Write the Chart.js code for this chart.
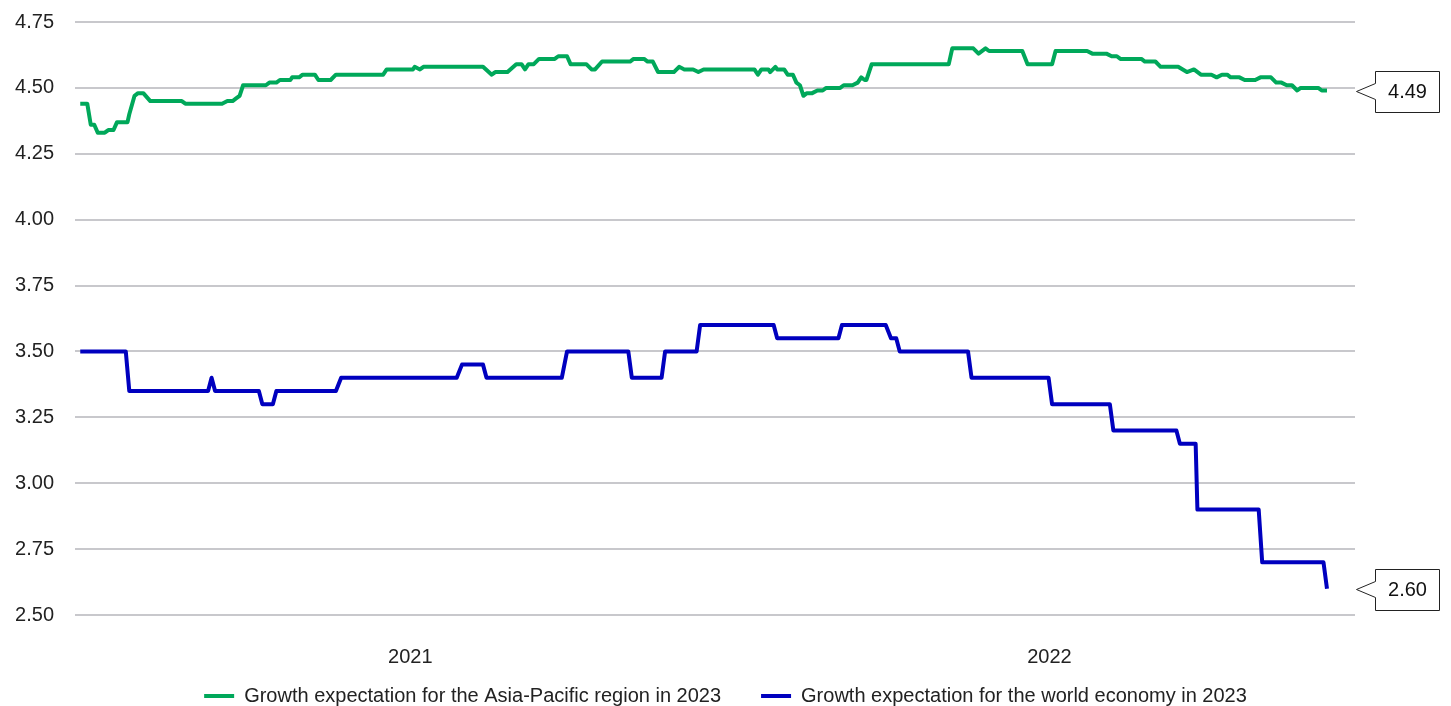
<!DOCTYPE html>
<html>
<head>
<meta charset="utf-8">
<script src="https://cdn.jsdelivr.net/npm/chart.js@4.4.1/dist/chart.umd.min.js"></script>
<style>
  html, body { margin: 0; padding: 0; background: #fff; overflow: hidden; }
  #wrap { width: 1451px; height: 706px; overflow: hidden; }
</style>
</head>
<body>
<div id="wrap"><canvas id="growthChart" width="1451" height="716"></canvas></div>
<script>
// Consensus growth forecasts for 2023
const asiaDates = [
  '2020-12-26', '2020-12-30', '2021-01-01', '2021-01-03', '2021-01-05', '2021-01-09', '2021-01-11', '2021-01-14',
  '2021-01-16', '2021-01-22', '2021-01-23', '2021-01-26', '2021-01-28', '2021-01-31', '2021-02-04', '2021-02-22',
  '2021-02-24', '2021-03-17', '2021-03-20', '2021-03-23', '2021-03-25', '2021-03-27', '2021-03-29', '2021-04-11',
  '2021-04-13', '2021-04-17', '2021-04-19', '2021-04-25', '2021-04-26', '2021-04-30', '2021-05-02', '2021-05-09',
  '2021-05-11', '2021-05-18', '2021-05-21', '2021-06-17', '2021-06-19', '2021-07-04', '2021-07-05', '2021-07-08',
  '2021-07-10', '2021-08-13', '2021-08-18', '2021-08-20', '2021-08-27', '2021-09-01', '2021-09-04', '2021-09-06',
  '2021-09-08', '2021-09-11', '2021-09-14', '2021-09-23', '2021-09-25', '2021-09-30', '2021-10-02', '2021-10-11',
  '2021-10-14', '2021-10-16', '2021-10-20', '2021-11-05', '2021-11-07', '2021-11-13', '2021-11-15', '2021-11-18',
  '2021-11-21', '2021-11-30', '2021-12-03', '2021-12-06', '2021-12-11', '2021-12-14', '2021-12-17', '2022-01-15',
  '2022-01-17', '2022-01-19', '2022-01-23', '2022-01-24', '2022-01-27', '2022-01-28', '2022-02-01', '2022-02-03',
  '2022-02-06', '2022-02-08', '2022-02-10', '2022-02-12', '2022-02-14', '2022-02-17', '2022-02-20', '2022-02-23',
  '2022-02-25', '2022-03-05', '2022-03-07', '2022-03-12', '2022-03-15', '2022-03-17', '2022-03-19', '2022-03-20',
  '2022-03-23', '2022-05-06', '2022-05-08', '2022-05-20', '2022-05-23', '2022-05-27', '2022-05-29', '2022-06-17',
  '2022-06-20', '2022-07-04', '2022-07-06', '2022-07-24', '2022-07-27', '2022-08-04', '2022-08-07', '2022-08-10',
  '2022-08-12', '2022-08-24', '2022-08-26', '2022-09-01', '2022-09-04', '2022-09-14', '2022-09-19', '2022-09-23',
  '2022-09-27', '2022-10-03', '2022-10-06', '2022-10-09', '2022-10-12', '2022-10-14', '2022-10-19', '2022-10-22',
  '2022-10-28', '2022-10-31', '2022-11-06', '2022-11-09', '2022-11-12', '2022-11-15', '2022-11-18', '2022-11-21',
  '2022-11-23', '2022-12-03', '2022-12-05', '2022-12-08'
];
const asiaValues = [
  4.44, 4.44, 4.36, 4.36, 4.33, 4.33, 4.34, 4.34,
  4.37, 4.37, 4.40, 4.47, 4.48, 4.48, 4.45, 4.45,
  4.44, 4.44, 4.45, 4.45, 4.46, 4.47, 4.51, 4.51,
  4.52, 4.52, 4.53, 4.53, 4.54, 4.54, 4.55, 4.55,
  4.53, 4.53, 4.55, 4.55, 4.57, 4.57, 4.58, 4.57,
  4.58, 4.58, 4.55, 4.56, 4.56, 4.59, 4.59, 4.57,
  4.59, 4.59, 4.61, 4.61, 4.62, 4.62, 4.59, 4.59,
  4.57, 4.57, 4.60, 4.60, 4.61, 4.61, 4.60, 4.60,
  4.56, 4.56, 4.58, 4.57, 4.57, 4.56, 4.57, 4.57,
  4.55, 4.57, 4.57, 4.56, 4.58, 4.57, 4.57, 4.55,
  4.55, 4.52, 4.51, 4.47, 4.48, 4.48, 4.49, 4.49,
  4.50, 4.50, 4.51, 4.51, 4.52, 4.54, 4.53, 4.53,
  4.59, 4.59, 4.65, 4.65, 4.63, 4.65, 4.64, 4.64,
  4.59, 4.59, 4.64, 4.64, 4.63, 4.63, 4.62, 4.62,
  4.61, 4.61, 4.60, 4.60, 4.58, 4.58, 4.56, 4.57,
  4.55, 4.55, 4.54, 4.55, 4.55, 4.54, 4.54, 4.53,
  4.53, 4.54, 4.54, 4.52, 4.52, 4.51, 4.51, 4.49,
  4.50, 4.50, 4.49, 4.49
];

const worldDates = [
  '2020-12-26', '2021-01-21', '2021-01-23', '2021-03-09', '2021-03-11', '2021-03-13', '2021-04-07', '2021-04-09',
  '2021-04-15', '2021-04-17', '2021-05-21', '2021-05-24', '2021-07-29', '2021-08-01', '2021-08-13', '2021-08-15',
  '2021-09-27', '2021-09-30', '2021-11-04', '2021-11-06', '2021-11-23', '2021-11-25', '2021-12-13', '2021-12-15',
  '2022-01-26', '2022-01-28', '2022-03-04', '2022-03-06', '2022-03-31', '2022-04-03', '2022-04-06', '2022-04-08',
  '2022-05-17', '2022-05-19', '2022-07-02', '2022-07-04', '2022-08-06', '2022-08-08', '2022-09-13', '2022-09-15',
  '2022-09-24', '2022-09-25', '2022-10-30', '2022-11-01', '2022-12-06', '2022-12-08'
];
const worldValues = [
  3.50, 3.50, 3.35, 3.35, 3.40, 3.35, 3.35, 3.30,
  3.30, 3.35, 3.35, 3.40, 3.40, 3.45, 3.45, 3.40,
  3.40, 3.50, 3.50, 3.40, 3.40, 3.50, 3.50, 3.60,
  3.60, 3.55, 3.55, 3.60, 3.60, 3.55, 3.55, 3.50,
  3.50, 3.40, 3.40, 3.30, 3.30, 3.20, 3.20, 3.15,
  3.15, 2.90, 2.90, 2.70, 2.70, 2.60
];

const seriesLabels = [
  'Growth expectation for the Asia-Pacific region in 2023',
  'Growth expectation for the world economy in 2023'
];
const seriesColors = ['#00a85a', '#0000bf'];
const yearLabels = ['2021', '2022'];
const axisStart = '2020-12-23';
const axisEnd = '2022-12-24';

// days since 1 Jan 2021
const dayOf = (s) => {
  const [y, m, d] = s.split('-').map(Number);
  return (Date.UTC(y, m - 1, d) - Date.UTC(2021, 0, 1)) / 86400000;
};
const toPoints = (dates, values) => dates.map((d, i) => ({ x: dayOf(d), y: values[i] }));
// each year label sits in the middle of its year
const yearMid = yearLabels.map((y) => (dayOf(y + '-01-01') + dayOf((+y + 1) + '-01-01')) / 2);

Chart.defaults.font.family = '"Liberation Sans", Arial, sans-serif';
Chart.defaults.font.size = 20;
Chart.defaults.color = '#222';

// Box with arrow showing the last value of each line, right of the plot
const lastValueCallout = {
  id: 'lastValueCallout',
  afterDatasetsDraw(chart) {
    const { ctx, chartArea } = chart;
    chart.data.datasets.forEach((ds, i) => {
      const meta = chart.getDatasetMeta(i);
      const pt = meta.data[meta.data.length - 1];
      const value = ds.data[ds.data.length - 1].y;
      const y = Math.round(pt.y) + 0.5;
      const tipX = Math.round(chartArea.right) + 1.5;
      const boxX = Math.round(chartArea.right) + 20.5;
      const w = 64, h = 41;
      const top = Math.round(y - h / 2) + 0.5;

      ctx.save();
      ctx.beginPath();
      ctx.moveTo(boxX, y - 8);
      ctx.lineTo(tipX, y);
      ctx.lineTo(boxX, y + 8);
      ctx.lineTo(boxX, top + h);
      ctx.lineTo(boxX + w, top + h);
      ctx.lineTo(boxX + w, top);
      ctx.lineTo(boxX, top);
      ctx.closePath();
      ctx.fillStyle = '#fff';
      ctx.fill();
      ctx.strokeStyle = '#222';
      ctx.lineWidth = 1;
      ctx.stroke();

      ctx.fillStyle = '#111';
      ctx.font = '20px "Liberation Sans", Arial, sans-serif';
      ctx.textAlign = 'center';
      ctx.textBaseline = 'middle';
      ctx.fillText(value.toFixed(2), boxX + w / 2, y + 1);
      ctx.restore();
    });
  }
};

// the year labels sit lower than the short x-axis box; let them run
// into the legend's top padding instead of being clipped
const yearLabelRoom = {
  id: 'yearLabelRoom',
  afterLayout(chart) {
    chart.scales.x.bottom = chart.height;
  }
};

const ctx = document.getElementById('growthChart').getContext('2d');

new Chart(ctx, {
  type: 'line',
  data: {
    datasets: [
      { label: seriesLabels[0], data: toPoints(asiaDates, asiaValues) },
      { label: seriesLabels[1], data: toPoints(worldDates, worldValues) }
    ].map((ds, i) => ({
      ...ds,
      borderColor: seriesColors[i],
      backgroundColor: seriesColors[i],
      borderWidth: 4,
      borderJoinStyle: 'round',
      pointRadius: 0,
      tension: 0,
      fill: false
    }))
  },
  options: {
    responsive: false,
    animation: false,
    devicePixelRatio: 1,
    layout: { padding: { top: 22, right: 0, left: 0, bottom: 0 } },
    plugins: {
      tooltip: { enabled: false },
      legend: {
        position: 'bottom',
        labels: {
          boxWidth: 30,
          boxHeight: 4,
          padding: 40,
          color: '#222',
          font: { size: 20 },
          generateLabels: (chart) =>
            Chart.defaults.plugins.legend.labels.generateLabels(chart).map((l) => ({ ...l, lineWidth: 0 }))
        }
      }
    },
    scales: {
      x: {
        type: 'linear',
        min: dayOf(axisStart),
        max: dayOf(axisEnd),
        grid: { display: false, drawTicks: false },
        border: { display: false },
        afterBuildTicks: (scale) => { scale.ticks = yearMid.map((v) => ({ value: v })); },
        afterFit: (scale) => { scale.height = 31; },
        ticks: {
          padding: 30,
          color: '#222',
          maxRotation: 0,
          autoSkip: false,
          callback: (v, i) => yearLabels[i]
        }
      },
      y: {
        min: 2.5,
        max: 4.75,
        grid: { color: '#c8c8cc', lineWidth: 2, drawTicks: false },
        border: { display: false },
        afterFit: (scale) => {
          scale.width = 75;
          scale.paddingTop = 0;
          scale.paddingBottom = 0;
        },
        ticks: {
          stepSize: 0.25,
          padding: 21,
          color: '#222',
          callback: (v) => v.toFixed(2)
        }
      },
      // empty right-hand axis that only keeps room for the value boxes
      side: {
        position: 'right',
        display: true,
        grid: { display: false, drawTicks: false },
        border: { display: false },
        ticks: { display: false },
        afterFit: (scale) => { scale.width = 96; }
      }
    }
  },
  plugins: [lastValueCallout, yearLabelRoom]
});
</script>
</body>
</html>
